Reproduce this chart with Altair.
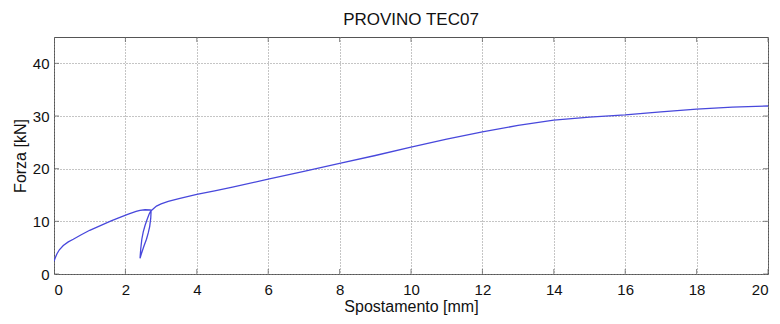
import altair as alt
import pandas as pd

# Load-displacement curve, in drawing order
spostamento = [0.0, 0.03, 0.08, 0.15, 0.26, 0.4, 0.54, 0.75, 1.0, 1.3, 1.6, 1.9, 2.1, 2.3, 2.41, 2.55, 2.69, 2.72,
               2.66, 2.6, 2.55, 2.5, 2.46, 2.43, 2.41,
               2.45, 2.52, 2.59, 2.64, 2.68, 2.71, 2.72,
               2.8, 2.87, 3.0, 3.2, 3.5, 4.0, 4.5, 5.0, 6.0, 7.0, 8.0, 9.0, 10.0, 11.0, 12.0, 13.0, 14.0,
               15.0, 16.0, 17.0, 18.0, 19.0, 20.0]
forza = [2.4, 3.0, 3.8, 4.6, 5.4, 6.1, 6.6, 7.4, 8.3, 9.2, 10.1, 10.9, 11.4, 11.9, 12.1, 12.2, 12.15, 12.1,
         11.3, 10.2, 9.2, 8.0, 6.6, 4.8, 3.0,
         3.9, 5.3, 6.6, 7.8, 9.0, 10.6, 12.0,
         12.5, 12.9, 13.3, 13.8, 14.3, 15.1, 15.8, 16.5, 18.0, 19.5, 21.0, 22.5, 24.1, 25.6, 27.0, 28.2, 29.2,
         29.8, 30.2, 30.8, 31.3, 31.7, 31.9]

x_ticks = [0, 2, 4, 6, 8, 10, 12, 14, 16, 18, 20]
y_ticks = [0, 10, 20, 30, 40]

df = pd.DataFrame({"x": spostamento, "y": forza, "i": list(range(len(forza)))})
dfx = pd.DataFrame({"t": x_ticks})
dfy = pd.DataFrame({"t": y_ticks})

font = "Liberation Sans"
xscale = alt.Scale(domain=[0, 20], nice=False, zero=False)
yscale = alt.Scale(domain=[0, 45], nice=False, zero=False)

common = dict(grid=True, gridDash=[1, 2], gridColor="#8a8a8a", ticks=False, domain=False,
              labelFont=font, titleFont=font, labelFontSize=15, titleFontSize=16,
              labelColor="#111", titleColor="#111", titleFontWeight="normal")

line = alt.Chart(df).mark_line(color="#4848dc", strokeWidth=1.3, clip=True).encode(
    x=alt.X("x:Q", scale=xscale, title="Spostamento [mm]",
            axis=alt.Axis(values=x_ticks, labelPadding=8, titlePadding=1, **common)),
    y=alt.Y("y:Q", scale=yscale, title="Forza [kN]",
            axis=alt.Axis(values=y_ticks, labelPadding=5, titlePadding=4, **common)),
    order="i:Q",
)

tick_color = "#555"
xt_bottom = alt.Chart(dfx).mark_tick(orient="vertical", size=10, thickness=1, color=tick_color, clip=True).encode(
    x=alt.X("t:Q", scale=xscale), y=alt.datum(0))
xt_top = alt.Chart(dfx).mark_tick(orient="vertical", size=10, thickness=1, color=tick_color, clip=True).encode(
    x=alt.X("t:Q", scale=xscale), y=alt.datum(45))
yt_left = alt.Chart(dfy).mark_tick(orient="horizontal", size=10, thickness=1, color=tick_color, clip=True).encode(
    y=alt.Y("t:Q", scale=yscale), x=alt.datum(0))
yt_right = alt.Chart(dfy).mark_tick(orient="horizontal", size=10, thickness=1, color=tick_color, clip=True).encode(
    y=alt.Y("t:Q", scale=yscale), x=alt.datum(20))

chart = alt.layer(line, xt_bottom, xt_top, yt_left, yt_right).properties(
    width=714, height=237,
    background="white",
    title=alt.TitleParams("PROVINO TEC07", font=font, fontSize=17, fontWeight="normal",
                          color="#111", offset=8, anchor="middle"),
    autosize=alt.AutoSizeParams(type="none"),
    padding={"left": 46, "top": 29, "right": 4, "bottom": 46},
).configure_view(stroke="#555", strokeWidth=1)

chart.save("out.html", embed_options={"renderer": "svg", "actions": False})
